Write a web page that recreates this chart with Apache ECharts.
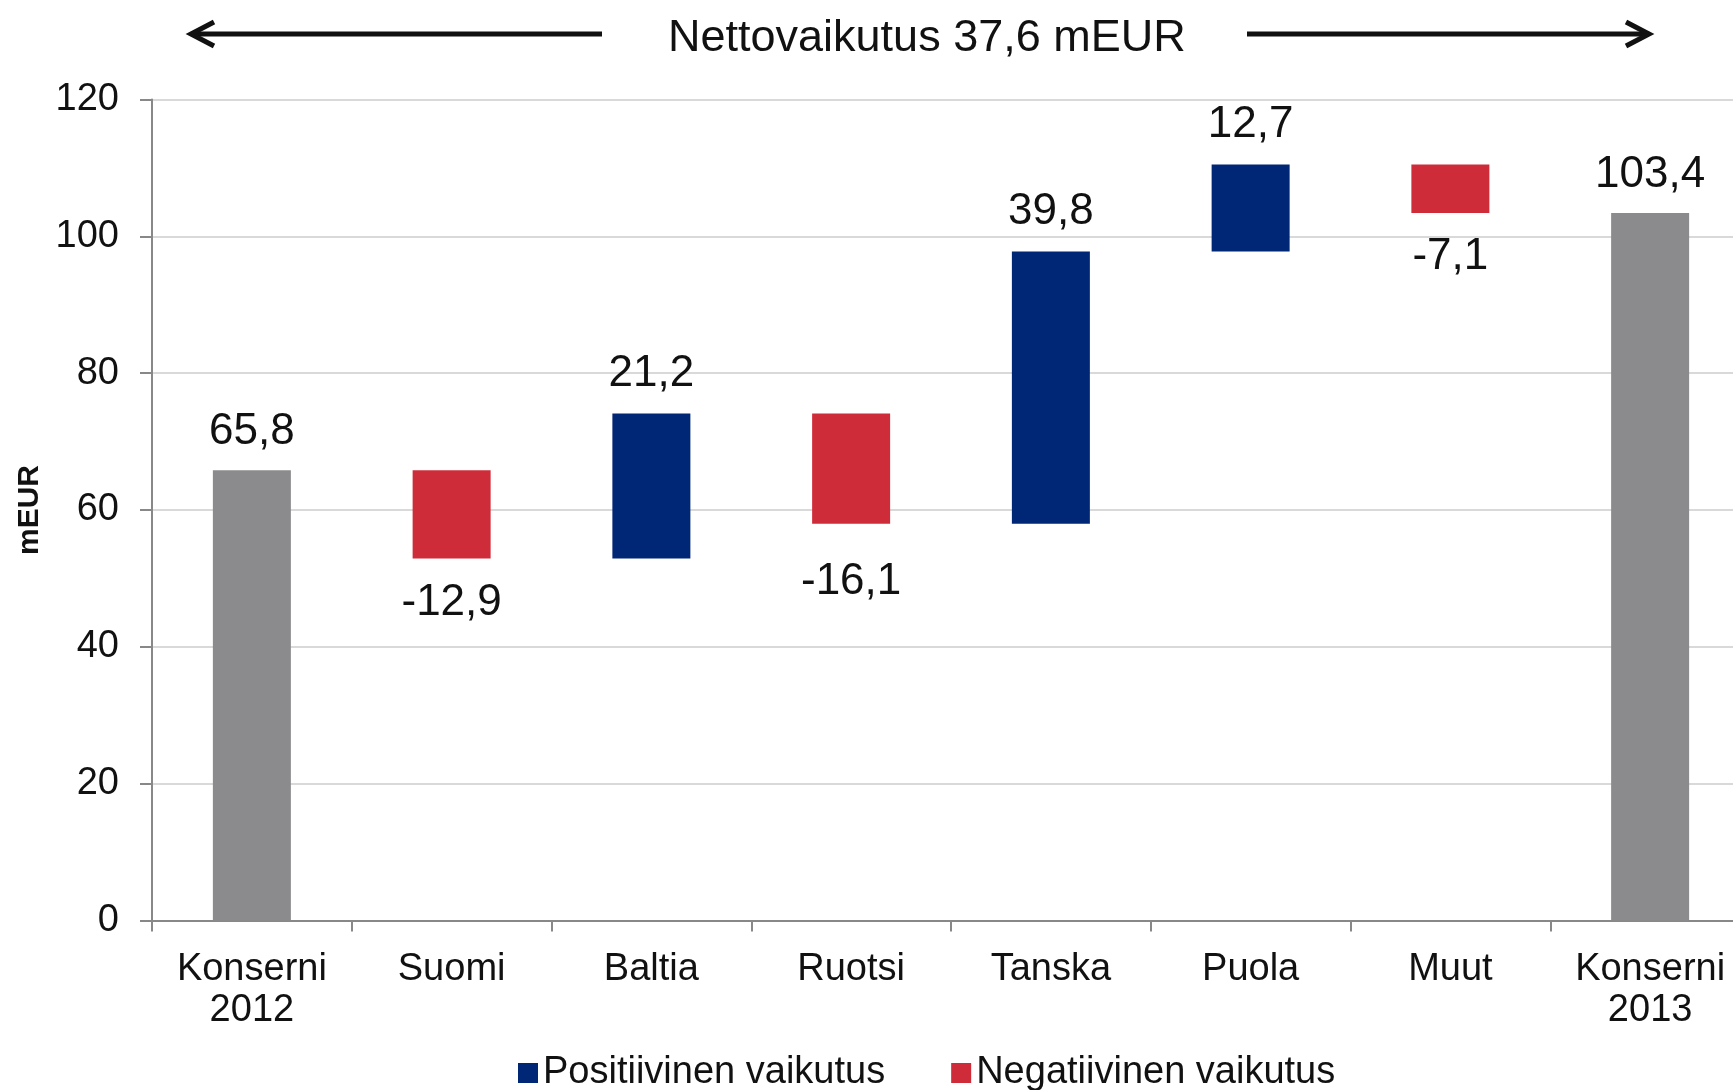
<!DOCTYPE html>
<html>
<head>
<meta charset="utf-8">
<script src="https://cdn.jsdelivr.net/npm/echarts@6/dist/echarts.min.js"></script>
<style>
  html, body { margin: 0; padding: 0; background: #fff; }
  #chart { width: 1733px; height: 1090px; }
</style>
</head>
<body>
<div id="chart"></div>
<script>
// waterfall data (mEUR)
const categories = ['Konserni\n2012', 'Suomi', 'Baltia', 'Ruotsi', 'Tanska', 'Puola', 'Muut', 'Konserni\n2013'];
const startValue = 65.8;
const changes = [null, -12.9, 21.2, -16.1, 39.8, 12.7, -7.1, null];
const endValue = 103.4;
const yTicks = [0, 20, 40, 60, 80, 100, 120];

const FONT = '"Liberation Sans", Arial, sans-serif';
const NAVY = '#002776';
const RED = '#cf2c3a';
const GREY = '#8b8b8d';

const fmt = v => v.toFixed(1).replace('.', ',');
// the Ruotsi label sits a little lower in the original
const labelDistance = i => (i === 3 ? 36 : 22);

// build stacked parts from the running total
const base = [];
const pos = [];
const neg = [];
const total = [];
let running = startValue;
changes.forEach((c, i) => {
  if (c === null) {
    base.push('-');
    pos.push('-');
    neg.push('-');
    total.push(i === 0 ? startValue : endValue);
    return;
  }
  const next = running + c;
  base.push(+Math.min(running, next).toFixed(1));
  pos.push(c > 0 ? c : '-');
  neg.push(c < 0 ? { value: -c, label: { distance: labelDistance(i) } } : '-');
  total.push('-');
  running = next;
});

const chart = echarts.init(document.getElementById('chart'));
chart.setOption({
  animation: false,
  title: {
    text: 'Nettovaikutus 37,6 mEUR',
    left: 663,
    top: 11,
    textStyle: { fontFamily: FONT, fontSize: 45, fontWeight: 'normal', color: '#111', lineHeight: 45 }
  },
  graphic: [
    // left arrow
    { type: 'line', shape: { x1: 192, y1: 34, x2: 602, y2: 34 }, style: { stroke: '#111', lineWidth: 5 } },
    { type: 'polyline', shape: { points: [[214, 22], [191, 34], [214, 46]] }, style: { stroke: '#111', lineWidth: 5, fill: null } },
    // right arrow
    { type: 'line', shape: { x1: 1247, y1: 34, x2: 1648, y2: 34 }, style: { stroke: '#111', lineWidth: 5 } },
    { type: 'polyline', shape: { points: [[1626, 22], [1649, 34], [1626, 46]] }, style: { stroke: '#111', lineWidth: 5, fill: null } }
  ],
  legend: {
    data: ['Positiivinen vaikutus', 'Negatiivinen vaikutus'],
    left: 513,
    top: 1049,
    itemWidth: 20,
    itemHeight: 20,
    itemGap: 66,
    icon: 'rect',
    textStyle: { fontFamily: FONT, fontSize: 38, color: '#111', padding: [0, 0, 0, 0] }
  },
  grid: {
    left: 152,
    top: 99.5,
    width: 1598,
    height: 821,
    outerBoundsMode: 'none'
  },
  xAxis: {
    type: 'category',
    data: categories,
    axisLine: { lineStyle: { color: '#888', width: 2 } },
    axisTick: { show: true, length: 11, lineStyle: { color: '#888', width: 2 } },
    axisLabel: {
      fontFamily: FONT, fontSize: 38, color: '#111', lineHeight: 41, margin: 29, interval: 0
    },
    splitLine: { show: false }
  },
  yAxis: {
    type: 'value',
    min: yTicks[0],
    max: yTicks[yTicks.length - 1],
    interval: 20,
    name: 'mEUR',
    nameLocation: 'middle',
    nameRotate: 90,
    nameGap: 107,
    nameTextStyle: { fontFamily: FONT, fontSize: 30, fontWeight: 'bold', color: '#111' },
    axisLine: { show: true, lineStyle: { color: '#888', width: 2 } },
    axisTick: { show: true, length: 12, lineStyle: { color: '#888', width: 2 } },
    axisLabel: { fontFamily: FONT, fontSize: 38, color: '#111', margin: 33 },
    splitLine: { lineStyle: { color: '#d9d9d9', width: 2 } }
  },
  series: [
    {
      name: 'base',
      type: 'bar',
      stack: 'w',
      barWidth: 78,
      silent: true,
      itemStyle: { color: 'transparent' },
      data: base
    },
    {
      name: 'Positiivinen vaikutus',
      type: 'bar',
      stack: 'w',
      barWidth: 78,
      itemStyle: { color: NAVY },
      label: {
        show: true, position: 'top', distance: 18,
        fontFamily: FONT, fontSize: 44, color: '#111',
        formatter: p => fmt(p.value)
      },
      data: pos
    },
    {
      name: 'Negatiivinen vaikutus',
      type: 'bar',
      stack: 'w',
      barWidth: 78,
      itemStyle: { color: RED },
      label: {
        show: true, position: 'bottom', distance: 22,
        fontFamily: FONT, fontSize: 44, color: '#111',
        formatter: p => '-' + fmt(p.value)
      },
      data: neg
    },
    {
      name: 'Konserni',
      type: 'bar',
      stack: 'w',
      barWidth: 78,
      itemStyle: { color: GREY },
      label: {
        show: true, position: 'top', distance: 16,
        fontFamily: FONT, fontSize: 44, color: '#111',
        formatter: p => fmt(p.value)
      },
      data: total
    }
  ]
});
</script>
</body>
</html>
